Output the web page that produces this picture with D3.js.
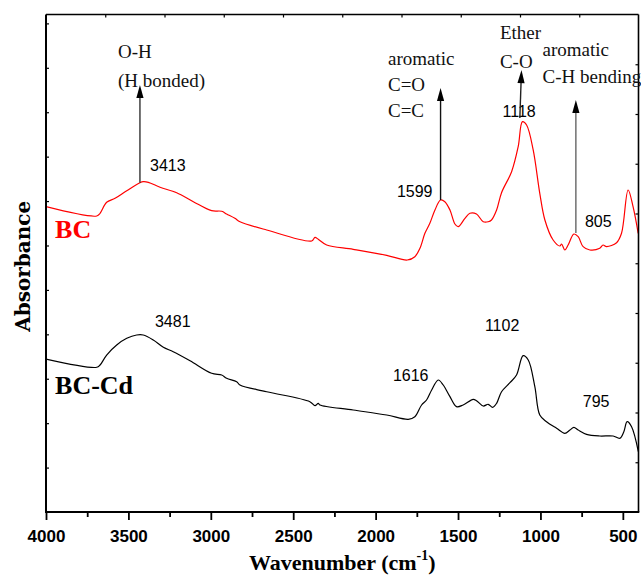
<!DOCTYPE html>
<html><head><meta charset="utf-8">
<script src="https://cdn.jsdelivr.net/npm/d3@7"></script>
<style>body{margin:0;background:#fff}svg{display:block}</style>
</head><body>
<svg id="c" width="641" height="576"></svg>
<script>
// ---- data (wavenumber cm-1, absorbance a.u.) ----
const bcWave = [4000,3692,3672,3632,3581,3510,3430,3410,3379,3308,3207,3106,2995,2934,2904,2854,2823,2661,2388,2368,2348,2297,2136,1933,1808,1762,1731,1701,1671,1640,1606,1580,1549,1519,1499,1458,1428,1388,1347,1317,1297,1266,1236,1175,1135,1109,1084,1044,1004,973,923,882,872,852,832,797,771,741,700,640,620,599,538,508,468,438,407];
const bcAbs  = [6.873,6.664,6.725,6.972,7.062,7.233,7.413,7.436,7.422,7.310,7.188,6.986,6.783,6.770,6.709,6.612,6.535,6.348,6.101,6.184,6.139,6.011,5.914,5.779,5.673,5.747,5.937,6.274,6.499,6.799,7.024,6.986,6.799,6.484,6.423,6.612,6.725,6.709,6.535,6.535,6.574,6.799,7.188,7.661,8.224,8.787,8.712,8.150,7.175,6.574,6.123,5.988,6.033,5.898,6.011,6.258,6.198,5.973,5.898,5.937,6.011,5.973,6.063,6.274,7.249,6.873,6.274];
const cdWave = [4000,3692,3672,3632,3571,3510,3450,3410,3349,3288,3228,3126,2995,2934,2904,2843,2823,2661,2399,2368,2348,2338,2136,1933,1802,1762,1721,1691,1660,1620,1590,1549,1509,1469,1408,1388,1347,1317,1290,1266,1236,1185,1145,1105,1074,1034,1004,963,902,852,821,797,771,720,640,559,518,494,474,447,406];
const cdAbs  = [3.444,3.258,3.309,3.534,3.760,3.910,3.985,3.985,3.872,3.708,3.609,3.406,3.123,3.084,3.010,2.933,2.859,2.708,2.483,2.393,2.447,2.409,2.296,2.184,2.087,2.145,2.409,2.521,2.747,2.972,2.859,2.596,2.371,2.409,2.537,2.506,2.386,2.425,2.357,2.447,2.708,2.911,3.084,3.519,3.422,2.821,2.184,2.033,1.884,1.772,1.846,1.907,1.846,1.749,1.711,1.711,1.659,1.808,2.033,1.920,1.358];
const xTicksMajor = [4000,3500,3000,2500,2000,1500,1000,500];
const xTicksMinor = [3750,3250,2750,2250,1750,1250,750];
// peak labels: [wavenumber, absorbance, text]
const peakLabels = [[3369,7.677,"3413"],[1871,7.091,"1599"],[1230,8.899,"1118"],[730,6.416,"805"],
                    [3339,4.165,"3481"],[1895,2.949,"1616"],[1337,4.075,"1102"],[743,2.364,"795"]];
// assignment texts: [wavenumber, absorbance(baseline), text]
const groupTexts = [[3563,10.22,"O-H"],[3563,9.568,"(H bonded)"],
                    [1925,10.063,"aromatic"],[1925,9.485,"C=O"],[1925,8.892,"C=C"],
                    [1246,10.648,"Ether"],[1246,9.995,"C-O"],
                    [987,10.266,"aromatic"],[987,9.658,"C-H bending"]];
// arrows: [wave from, abs from, wave to, abs to, colour]
const arrows = [[3430,7.413,3430,9.613,"#333"],[1606,7.024,1606,9.545,"#111"],
                [1125,8.870,1115,9.950,"#222"],[785,6.281,785,9.275,"#666"]];
const seriesLabels = [[3945,6.168,"BC","#ff0000"],[3945,2.656,"BC-Cd","#000"]];

// ---- layout ----
const L=46,R=638.5,T=14.5,B=512;
const svg=d3.select("#c");
const x=d3.scaleLinear().domain([4000,405]).range([L,R]);
const y=d3.scaleLinear().domain([0,11.2]).range([B,T]);
const xTop=d3.scaleLinear().domain([0,10]).range([L,R]);
const yRight=d3.scaleLinear().domain([0,10]).range([B,T]);

svg.append("defs").append("clipPath").attr("id","clip").append("rect")
  .attr("x",L).attr("y",T).attr("width",R-L).attr("height",B-T);

const line=d3.line().x((d)=>x(d[0])).y((d)=>y(d[1])).curve(d3.curveCatmullRom.alpha(0.5));
const g=svg.append("g").attr("clip-path","url(#clip)");
g.append("path").datum(bcWave.map((w,i)=>[w,bcAbs[i]])).attr("d",line)
  .attr("fill","none").attr("stroke","#ff0000").attr("stroke-width",1.2);
g.append("path").datum(cdWave.map((w,i)=>[w,cdAbs[i]])).attr("d",line)
  .attr("fill","none").attr("stroke","#000").attr("stroke-width",1.2);

// axes
const ax=svg.append("g").attr("transform",`translate(0,${B})`)
  .call(d3.axisBottom(x).tickValues(xTicksMajor).tickSize(8).tickPadding(10).tickFormat(d3.format("d")));
ax.select(".domain").remove();
ax.selectAll("line").attr("stroke","#000").attr("stroke-width",1.8);
ax.selectAll("text").attr("font-family","Liberation Sans, Arial, sans-serif").attr("font-weight","bold").attr("font-size",17).attr("fill","#000");
const axm=svg.append("g").attr("transform",`translate(0,${B})`)
  .call(d3.axisBottom(x).tickValues(xTicksMinor).tickSize(5).tickFormat(""));
axm.select(".domain").remove();
axm.selectAll("line").attr("stroke","#000").attr("stroke-width",1.8);

const ay=svg.append("g").attr("transform",`translate(${L},0)`)
  .call(d3.axisRight(y).tickValues(d3.range(1,12)).tickSize(3).tickFormat(""));
ay.select(".domain").remove();
ay.selectAll("line").attr("stroke","#000").attr("stroke-width",1.2);
const at=svg.append("g").attr("transform",`translate(0,${T})`)
  .call(d3.axisBottom(xTop).tickValues(d3.range(1,10)).tickSize(3).tickFormat(""));
at.select(".domain").remove();
at.selectAll("line").attr("stroke","#000").attr("stroke-width",1.2);
const ar=svg.append("g").attr("transform",`translate(${R},0)`)
  .call(d3.axisLeft(yRight).tickValues(d3.range(1,10)).tickSize(3).tickFormat(""));
ar.select(".domain").remove();
ar.selectAll("line").attr("stroke","#000").attr("stroke-width",1.2);

// frame
svg.append("line").attr("x1",L).attr("x2",R).attr("y1",T).attr("y2",T).attr("stroke","#000").attr("stroke-width",1.6);
svg.append("line").attr("x1",R).attr("x2",R).attr("y1",T).attr("y2",B).attr("stroke","#000").attr("stroke-width",1.6);
svg.append("line").attr("x1",L).attr("x2",L).attr("y1",T).attr("y2",B+0.9).attr("stroke","#000").attr("stroke-width",2);
svg.append("line").attr("x1",L-1).attr("x2",R+0.8).attr("y1",B).attr("y2",B).attr("stroke","#000").attr("stroke-width",2);

// axis titles
const xt=svg.append("text").attr("x",(L+R)/2).attr("y",570).attr("text-anchor","middle")
  .attr("font-family","Liberation Serif, Times New Roman, serif").attr("font-weight","bold").attr("font-size",22).attr("fill","#000");
xt.append("tspan").text("Wavenumber (cm");
xt.append("tspan").attr("font-size",14).attr("dy",-10).text("-1");
xt.append("tspan").attr("dy",10).text(")");
svg.append("text").attr("transform",`translate(30,${(T+B)/2+3}) rotate(-90)`).attr("text-anchor","middle")
  .attr("font-family","DejaVu Serif, serif").attr("font-weight","bold").attr("font-size",20).attr("fill","#000")
  .text("Absorbance");

// series labels
svg.selectAll(".sl").data(seriesLabels).join("text")
  .attr("x",(d)=>x(d[0])).attr("y",(d)=>y(d[1])).attr("fill",(d)=>d[3])
  .attr("font-family","Liberation Serif, Times New Roman, serif").attr("font-weight","bold").attr("font-size",26)
  .text((d)=>d[2]);

// peak labels
svg.selectAll(".pl").data(peakLabels).join("text")
  .attr("x",(d)=>x(d[0])).attr("y",(d)=>y(d[1]))
  .attr("font-family","Liberation Sans, Arial, sans-serif").attr("font-size",16).attr("fill","#000")
  .text((d)=>d[2]);

// group texts
svg.selectAll(".gt").data(groupTexts).join("text")
  .attr("x",(d)=>x(d[0])).attr("y",(d)=>y(d[1]))
  .attr("font-family","Liberation Serif, Times New Roman, serif").attr("font-size",19).attr("fill","#111")
  .text((d)=>d[2]);

// arrows
arrows.forEach((a)=>{
  const x1=x(a[0]),y1=y(a[1]),x2=x(a[2]),y2=y(a[3]);
  const ang=Math.atan2(y2-y1,x2-x1);
  const hl=13,hw=3.6;
  const bx=x2-hl*Math.cos(ang),by=y2-hl*Math.sin(ang);
  svg.append("line").attr("x1",x1).attr("y1",y1).attr("x2",bx).attr("y2",by)
    .attr("stroke",a[4]).attr("stroke-width",1.4);
  const px=-Math.sin(ang),py=Math.cos(ang);
  svg.append("path").attr("d",`M${x2},${y2}L${bx+hw*px},${by+hw*py}L${bx-hw*px},${by-hw*py}Z`).attr("fill","#000");
});
</script>
</body></html>
